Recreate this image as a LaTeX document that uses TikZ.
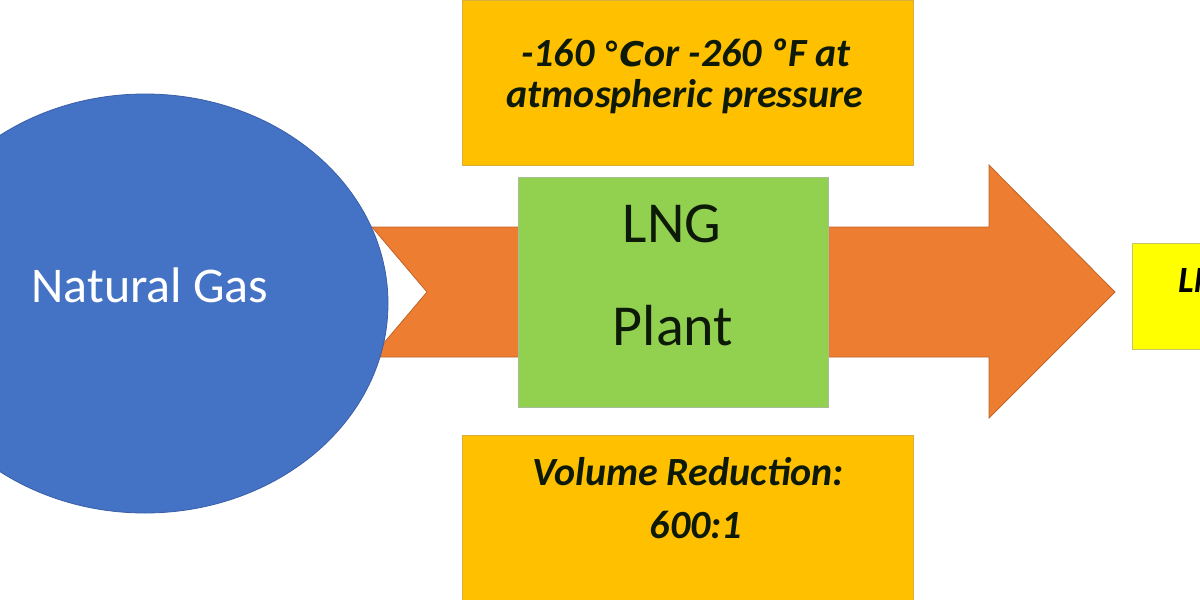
\documentclass[tikz,border=0pt]{standalone}
\usepackage{fontspec}
\setmainfont{Carlito}
\newfontfamily\dejavu{DejaVu Sans}
\usetikzlibrary{shapes.geometric}
\definecolor{gasblue}{HTML}{4472C4}
\definecolor{gasedge}{HTML}{3A5FA8}
\definecolor{arroworange}{HTML}{ED7D31}
\definecolor{arrowedge}{HTML}{C0652A}
\definecolor{gold}{HTML}{FFC000}
\definecolor{goldedge}{HTML}{D9AE3A}
\definecolor{plantgreen}{HTML}{92D050}
\definecolor{plantedge}{HTML}{A6BE96}
\definecolor{lngyellow}{HTML}{FFFF00}
\definecolor{yellowedge}{HTML}{C9C46A}
\definecolor{darktext}{HTML}{0E1A08}
\tikzset{
  goldbox/.style={draw=goldedge, line width=0.8pt, fill=gold, inner sep=0pt, minimum width=451pt, minimum height=165pt},
  plantbox/.style={draw=plantedge, line width=0.8pt, fill=plantgreen, inner sep=0pt, minimum width=310pt, minimum height=230pt},
  notebig/.style={font=\fontsize{40}{44}\selectfont\bfseries\itshape, text=darktext, inner sep=0pt, anchor=base},
  planttext/.style={font=\fontsize{58}{60}\selectfont, text=darktext, inner sep=0pt, anchor=base},
}
\begin{document}
\begin{tikzpicture}[x=1pt,y=-1pt]
\useasboundingbox (0,0) rectangle (1200,600);
\clip (0,0) rectangle (1200,600);
\fill[white] (0,0) rectangle (1200,600);
% big notched arrow
\coordinate (atl) at (372,227);
\coordinate (ahb) at (989,227);
\coordinate (aht) at (989,165);
\coordinate (atip) at (1115,292);
\coordinate (ahbb) at (989,418);
\coordinate (ahb2) at (989,357);
\coordinate (abl) at (372,357);
\coordinate (anotch) at (427,292);
\draw[fill=arroworange, draw=arrowedge, line width=0.8pt, line join=miter]
  (atl) -- (ahb) -- (aht) -- (atip) -- (ahbb) -- (ahb2) -- (abl) -- (anotch) -- cycle;
% natural gas
\node[ellipse, fill=gasblue, draw=gasedge, line width=0.8pt, minimum width=486pt, minimum height=419pt, inner sep=0pt] (gas) at (145,303.5) {};
\node[font=\fontsize{50}{52}\selectfont, text=white, inner sep=0pt, anchor=base] (gastext) at (150,302) {Natural Gas};
% plant
\node[plantbox] (plant) at (673,292) {};
\node[planttext] (lng) at (672,242) {LNG};
\node[planttext] (plantword) at (673,345) {Plant};
% top note
\node[goldbox] (topnote) at (687.5,82.5) {};
\node[notebig] (t1) at (686,66) {-160 {\dejavu\fontsize{34}{36}\selectfont ℃}or -260 ºF at};
\node[notebig] (t2) at (685,107) {atmospheric pressure};
% bottom note
\node[goldbox] (botnote) at (687.5,518) {};
\node[notebig] (b1) at (688,485) {Volume Reduction:};
\node[notebig] (b2) at (696,538) {600:1};
% LNG output box
\node[draw=yellowedge, line width=0.8pt, fill=lngyellow, inner sep=0pt, minimum width=160pt, minimum height=106pt] (out) at (1212,296) {};
\node[font=\fontsize{37}{40}\selectfont\bfseries\itshape, text=black, inner sep=0pt, anchor=base west] (outtext) at (1178,292) {LNG};
\end{tikzpicture}
\end{document}
